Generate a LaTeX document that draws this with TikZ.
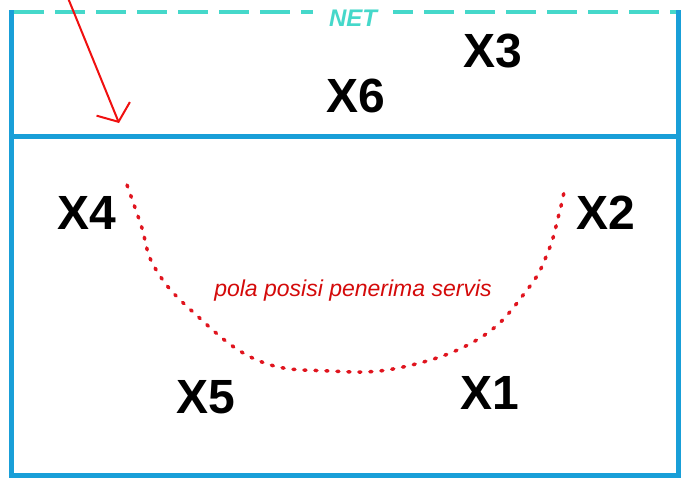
\documentclass[tikz,border=0pt]{standalone}
\usepackage{fontspec}
\setmainfont{Liberation Sans}
\usetikzlibrary{arrows.meta}
\definecolor{courtblue}{HTML}{199FD8}
\definecolor{netcyan}{HTML}{45D8CA}
\definecolor{dotred}{HTML}{E0141E}
\definecolor{txtred}{HTML}{D40A0A}
\definecolor{arrred}{HTML}{F01010}
\tikzset{
  court/.style={draw=courtblue, line width=5pt},
  netline/.style={draw=netcyan, line width=4.5pt, dash pattern=on 30pt off 11pt},
  player/.style={font=\bfseries\fontsize{48}{48}\selectfont, inner sep=0pt, text=black},
  nettext/.style={font=\bfseries\itshape\fontsize{24}{24}\selectfont, text=netcyan, fill=white, inner xsep=16pt, inner ysep=2pt},
  pattext/.style={font=\itshape\fontsize{23}{23}\selectfont, text=txtred, inner sep=0pt, anchor=base},
  serve/.style={draw=arrred, line width=2pt, -{Straight Barb[length=14pt, width=36pt]}},
  pattern/.style={draw=dotred, line width=3.5pt, line cap=round, dash pattern=on 2pt off 9pt}
}
\begin{document}
\begin{tikzpicture}[x=1pt,y=-1pt]
\useasboundingbox (0,0) rectangle (691,488);
\fill[white] (0,0) rectangle (691,488);
% court
\coordinate (tl) at (11.5,10);
\coordinate (tr) at (678.5,10);
\coordinate (bl) at (11.5,475);
\coordinate (br) at (678.5,475);
\coordinate (ml) at (11.5,136);
\coordinate (mr) at (678.5,136);
\draw[court] (tl) -- (bl) -- (br) -- (tr);
\draw[court] (ml) -- (mr);
% net
\coordinate (nl) at (14,12);
\coordinate (nr) at (676,12);
\draw[netline] (nl) -- (nr);
\node[nettext] (net) at (353,18) {NET};
% players
\node[player] (x3) at (493,51) {X3};
\node[player] (x6) at (356,96) {X6};
\node[player] (x4) at (87,213) {X4};
\node[player] (x2) at (606,213) {X2};
\node[player] (x5) at (206,397) {X5};
\node[player] (x1) at (490,393) {X1};
% serve arrow
\coordinate (s0) at (68,-2);
\coordinate (s1) at (119,123);
\draw[serve] (s0) -- (s1);
% reception pattern
\draw[pattern] plot[smooth, tension=0.7] coordinates {(127,185) (141,225) (155,268) (193,312) (257,360) (330,371) (403,367) (480,338) (527,290) (548,252) (559,214) (564,192)};
\node[pattext] (lbl) at (353,296) {pola posisi penerima servis};
\end{tikzpicture}
\end{document}
